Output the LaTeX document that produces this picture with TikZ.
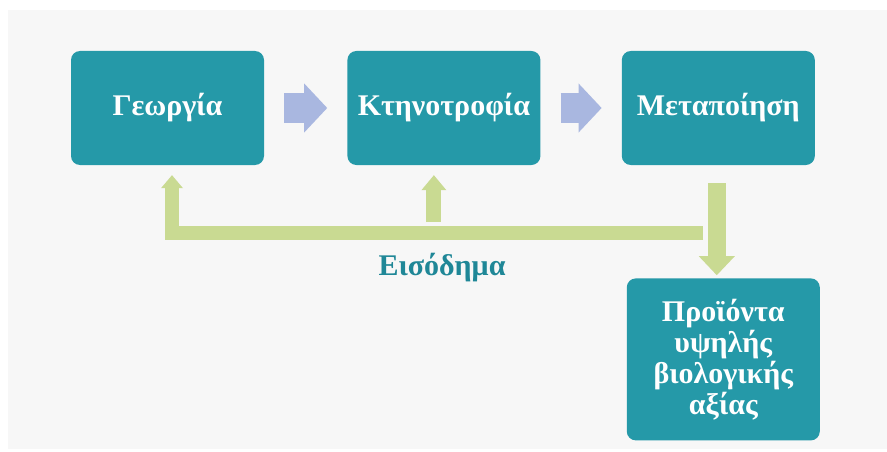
\documentclass[tikz,border=0pt]{standalone}
\usepackage{fontspec}
\setmainfont{Liberation Serif}
\usetikzlibrary{arrows.meta,positioning}
\definecolor{boxteal}{HTML}{2599A8}
\definecolor{textteal}{HTML}{1F8797}
\definecolor{feedgreen}{HTML}{C9DA92}
\definecolor{flowblue}{HTML}{A9B7E0}
\definecolor{bggrey}{HTML}{F7F7F7}

\begin{document}
\begin{tikzpicture}[x=1pt,y=-1pt,
	box/.style = {fill=boxteal,rounded corners=9pt,text=white,font=\bfseries\fontsize{30}{31}\selectfont,minimum width=193pt,minimum height=114pt,inner sep=0pt,align=center},
	flow/.style = {flowblue,line width=30pt,-{Triangle[width=49pt,length=23pt,line width=0pt]},shorten <=20pt,shorten >=20pt},
	feed/.style = {feedgreen,line width=14pt}
	]
	\useasboundingbox (0,0) rectangle (887,452);
	\fill[bggrey] (8,10) rectangle (887,449);
	%KOYTIA
	\node[box] (geo) at (167.5,108) {Γεωργία};
	\node[box,right=83pt of geo] (kti) {Κτηνοτροφία};
	\node[box,right=81pt of kti] (meta) {Μεταποίηση};
	\node[box,minimum height=162pt,below=113pt of meta,xshift=5pt] (prod) {Προϊόντα\\υψηλής\\βιολογικής\\αξίας};
	%ROH
	\draw[flow] (geo) -- (kti);
	\draw[flow] (kti) -- (meta);
	%EISODHMA
	\coordinate (barend) at (703,233);
	\coordinate (lefttip) at ([xshift=4.5pt]geo.south);
	\coordinate (midtip) at ([xshift=-10pt]kti.south);
	\path (midtip |- barend) ++(0,-11) coordinate (midfoot);
	\coordinate (downtop) at ([xshift=-1.5pt,yshift=-18pt]meta.south);
	\draw[feed,-{Triangle[width=22pt,length=13pt,line width=0pt]},shorten >=10pt] (barend) -| (lefttip);
	\draw[feed,line width=15pt,-{Triangle[width=25pt,length=15pt,line width=0pt]},shorten >=10pt] (midfoot) -- (midtip);
	\draw[feed,line width=18pt,-{Triangle[width=36pt,length=19pt,line width=0pt]},shorten >=3pt] (downtop) -- (downtop |- prod.north);
	\node[text=textteal,font=\bfseries\fontsize{30}{31}\selectfont] (inc) at (442,268) {Εισόδημα};
\end{tikzpicture}
\end{document}
